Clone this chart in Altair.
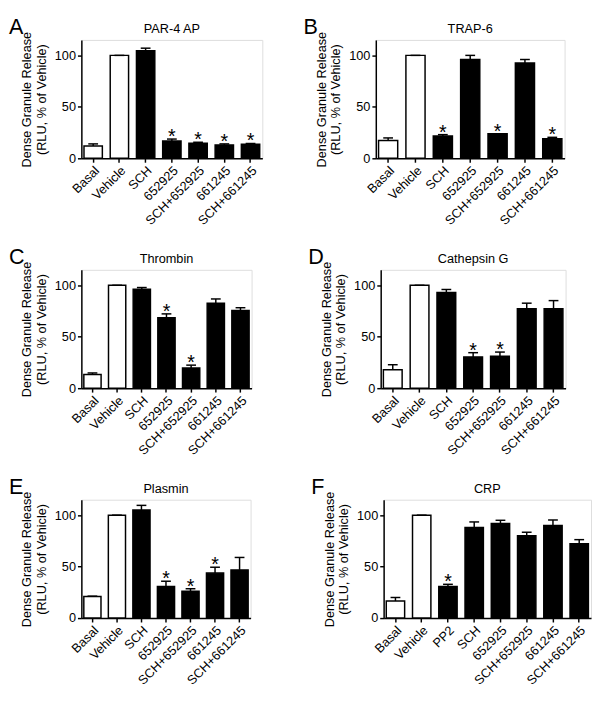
import altair as alt
import pandas as pd

cats7 = ["Basal", "Vehicle", "SCH", "652925", "SCH+652925", "661245", "SCH+661245"]
catsF = ["Basal", "Vehicle", "PP2", "SCH", "652925", "SCH+652925", "661245", "SCH+661245"]

titles = ["PAR-4  AP", "TRAP-6", "Thrombin", "Cathepsin G", "Plasmin", "CRP"]
letters = ["A", "B", "C", "D", "E", "F"]

par4_mean = [12, 100, 104.4, 16.8, 14.6, 13, 13.6]
par4_err = [2, 0, 2.6, 1.9, 1, 1, 0.8]
par4_sig = [0, 0, 0, 1, 1, 1, 1]

trap6_mean = [17.3, 100, 21.7, 96, 23.9, 92.5, 18.9]
trap6_err = [2.5, 0, 1.3, 4, 0, 3.5, 1.5]
trap6_sig = [0, 0, 1, 0, 1, 0, 1]

thrombin_mean = [13.2, 100, 96.2, 68.5, 19.6, 82.6, 75.4]
thrombin_err = [1.6, 0, 1.6, 3.7, 2.8, 4.1, 2.8]
thrombin_sig = [0, 0, 0, 1, 1, 0, 0]

cathg_mean = [18, 100, 93, 30.4, 31, 77.2, 77.2]
cathg_err = [4.8, 0, 2.9, 4.1, 4.1, 5.4, 7.9]
cathg_sig = [0, 0, 0, 1, 1, 0, 0]

plasmin_mean = [20.9, 100, 105, 30.7, 26, 43.7, 46.8]
plasmin_err = [0.4, 0, 4.5, 5.1, 2.5, 5.7, 12.1]
plasmin_sig = [0, 0, 0, 1, 1, 1, 0]

crp_mean = [16.6, 100, 30.6, 88.1, 91.9, 80, 90, 72.2]
crp_err = [3.4, 0, 2.2, 5.3, 3.1, 3.4, 5.3, 4]
crp_sig = [0, 0, 1, 0, 0, 0, 0, 0]

FONT = "Liberation Sans"


def panel(title, letter, cats, mean, err, sig, width):
    df = pd.DataFrame({
        "cat": cats,
        "mean": mean,
        "top": [m + e for m, e in zip(mean, err)],
        "sig": ["*" if s else "" for s in sig],
        "grp": ["ctrl" if c in ("Basal", "Vehicle") else "trt" for c in cats],
    })
    x = alt.X("cat:N", sort=cats,
              scale=alt.Scale(paddingInner=0.3, paddingOuter=0.1),
              axis=alt.Axis(title=None, labelAngle=-45, labelFontSize=13, labelFont=FONT,
                            labelColor="black", domainColor="black", tickColor="black",
                            domainWidth=1.5, tickWidth=1.5, tickSize=4, labelPadding=2))
    yscale = alt.Scale(domain=[0, 115], nice=False)
    base = alt.Chart(df).encode(x=x)
    bars = base.mark_bar(stroke="black", strokeWidth=1.5).encode(
        y=alt.Y("mean:Q", scale=yscale,
                axis=alt.Axis(values=[0, 50, 100], title=["Dense Granule  Release", "(RLU, % of Vehicle)"],
                              titleFontSize=13, titleFont=FONT, titleFontWeight="normal",
                              titleColor="black", labelFontSize=13, labelFont=FONT,
                              labelColor="black", domainColor="black", tickColor="black",
                              domainWidth=1.5, tickWidth=1.5, tickSize=4, grid=False,
                              titlePadding=6)),
        fill=alt.Fill("grp:N", scale=alt.Scale(domain=["ctrl", "trt"], range=["white", "black"]),
                      legend=None),
    )
    rule = base.mark_rule(strokeWidth=1.5, color="black").encode(
        y=alt.Y("mean:Q", scale=yscale), y2="top:Q")
    cap = base.mark_tick(size=10, thickness=1.5, color="black", opacity=1).encode(
        y=alt.Y("top:Q", scale=yscale))
    star = base.mark_text(fontSize=20, font=FONT, baseline="alphabetic", dy=4, color="black").encode(
        y=alt.Y("top:Q", scale=yscale), text="sig:N")
    lab = alt.Chart(pd.DataFrame({"l": [letter]})).mark_text(
        fontSize=22, font=FONT, align="left", baseline="alphabetic", color="black"
    ).encode(x=alt.value(-74), y=alt.value(-6), text="l:N")
    ttl = alt.Chart(pd.DataFrame({"t": [title]})).mark_text(
        fontSize=13, font=FONT, align="center", baseline="alphabetic", color="black"
    ).encode(x=alt.value(width / 2), y=alt.value(-7), text="t:N")
    return alt.layer(bars, rule, cap, star, lab, ttl).properties(width=width, height=121)


pA = panel(titles[0], letters[0], cats7, par4_mean, par4_err, par4_sig, 185)
pB = panel(titles[1], letters[1], cats7, trap6_mean, trap6_err, trap6_sig, 193)
pC = panel(titles[2], letters[2], cats7, thrombin_mean, thrombin_err, thrombin_sig, 174)
pD = panel(titles[3], letters[3], cats7, cathg_mean, cathg_err, cathg_sig, 189)
pE = panel(titles[4], letters[4], cats7, plasmin_mean, plasmin_err, plasmin_sig, 173)
pF = panel(titles[5], letters[5], catsF, crp_mean, crp_err, crp_sig, 212)

chart = alt.vconcat(
    alt.hconcat(pA, pB, spacing=40),
    alt.hconcat(pC, pD, spacing=56),
    alt.hconcat(pE, pF, spacing=60),
    spacing=17,
).properties(padding=0).configure_view(stroke=None).configure(background="white")

chart.save("out.html", embed_options={"renderer": "svg", "actions": False})
